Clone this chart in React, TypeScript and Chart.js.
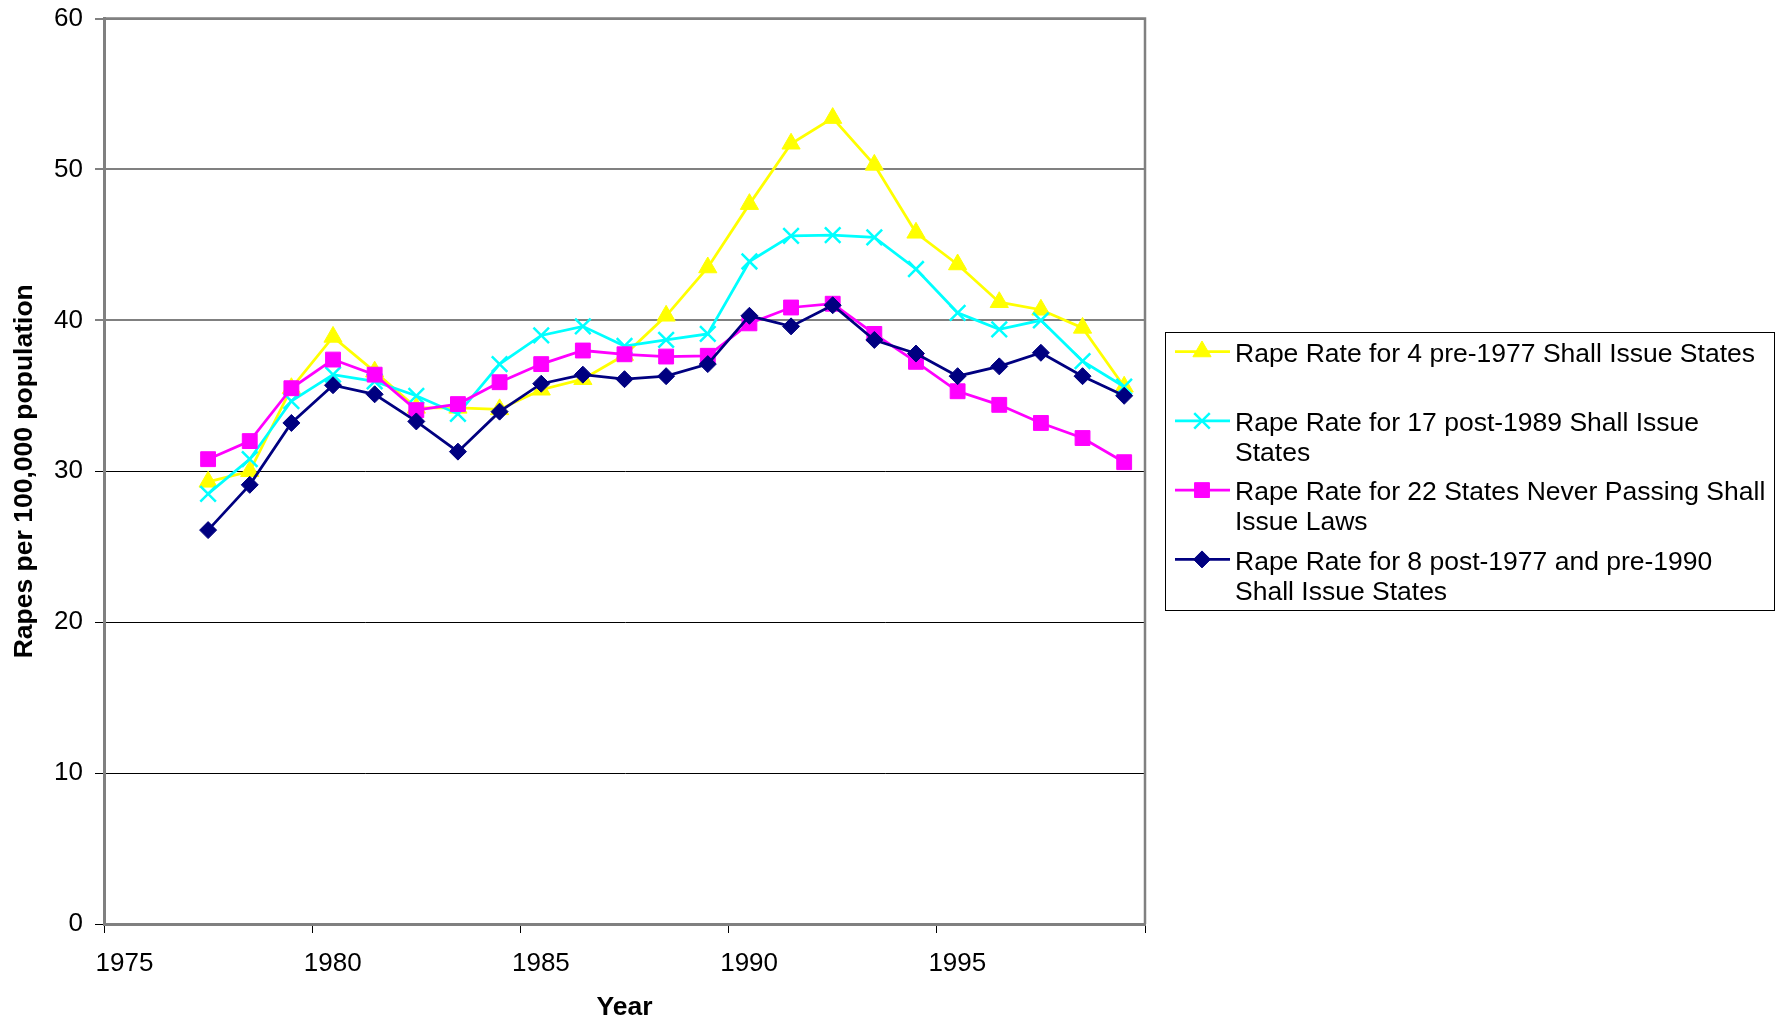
import React, { useEffect, useRef } from 'react';
import { Chart, registerables } from 'chart.js';
import { drawPoint } from 'chart.js/helpers';

Chart.register(...registerables);

// Years covered by the series (plotted at mid-year)
const years = [
  1977, 1978, 1979, 1980, 1981, 1982, 1983, 1984, 1985, 1986, 1987, 1988,
  1989, 1990, 1991, 1992, 1993, 1994, 1995, 1996, 1997, 1998, 1999,
];

// Rapes per 100,000 population
const pre1977States = [
  29.3, 30.0, 35.5, 38.9, 36.6, 34.2, 34.2, 34.1, 35.4, 36.1, 37.7, 40.3,
  43.5, 47.7, 51.7, 53.4, 50.3, 45.8, 43.7, 41.2, 40.7, 39.5, 35.6,
];
const post1989States = [
  28.5, 30.8, 34.65, 36.4, 35.95, 35.0, 33.8, 37.1, 39.0, 39.6, 38.3, 38.7,
  39.1, 43.9, 45.6, 45.65, 45.5, 43.4, 40.5, 39.4, 40.0, 37.3, 35.6,
];
const neverPassingStates = [
  30.8, 32.0, 35.5, 37.4, 36.4, 34.05, 34.45, 35.9, 37.1, 38.0, 37.75, 37.6,
  37.65, 39.8, 40.85, 41.1, 39.1, 37.25, 35.3, 34.4, 33.2, 32.2, 30.6,
];
const post1977Pre1990States = [
  26.1, 29.1, 33.2, 35.7, 35.1, 33.3, 31.3, 33.95, 35.8, 36.4, 36.1, 36.3,
  37.1, 40.3, 39.6, 41.0, 38.7, 37.8, 36.3, 36.95, 37.85, 36.3, 35.0,
];

// Legend text, one entry per series, split into its display lines
const seriesLabels = [
  ['Rape Rate for 4 pre-1977 Shall Issue States'],
  ['Rape Rate for 17 post-1989 Shall Issue', 'States'],
  ['Rape Rate for 22 States Never Passing Shall', 'Issue Laws'],
  ['Rape Rate for 8 post-1977 and pre-1990', 'Shall Issue States'],
];

const xAxisTitle = 'Year';
const yAxisTitle = 'Rapes per 100,000 population';

const FONT = '"Liberation Sans", Arial, Helvetica, sans-serif';
const GRAY = '#808080';

const seriesStyles = [
  { color: '#FFFF00', pointStyle: 'triangle', radius: 10.5, pointBorder: 1 },
  { color: '#00FFFF', pointStyle: 'crossRot', radius: 11, pointBorder: 2.5 },
  { color: '#FF00FF', pointStyle: 'rect', radius: 10.5, pointBorder: 1 },
  { color: '#000080', pointStyle: 'rectRot', radius: 8.5, pointBorder: 1 },
];

const seriesValues = [pre1977States, post1989States, neverPassingStates, post1977Pre1990States];

// Top and right edges of the plot frame
const frameBorder = {
  id: 'frameBorder',
  beforeDatasetsDraw(chart: any) {
    const { ctx, chartArea } = chart;
    ctx.save();
    ctx.strokeStyle = GRAY;
    ctx.lineWidth = 2.5;
    ctx.beginPath();
    ctx.moveTo(chartArea.left, chartArea.top);
    ctx.lineTo(chartArea.right, chartArea.top);
    ctx.lineTo(chartArea.right, chartArea.bottom);
    ctx.stroke();
    ctx.restore();
  },
};

// Boxed legend to the right of the plot with wrapped labels
const boxedLegend = {
  id: 'boxedLegend',
  afterDraw(chart: any) {
    const { ctx } = chart;
    const box = { x: 1165.5, y: 332.5, w: 609, h: 278 };
    const textX = 1235;
    const lineX0 = 1175;
    const lineX1 = 1230;
    const markerX = 1202;
    const firstY = 354.5;
    const entryStep = 69.3;
    const lineStep = 30;

    ctx.save();
    ctx.strokeStyle = '#000';
    ctx.lineWidth = 1;
    ctx.strokeRect(box.x, box.y, box.w, box.h);

    ctx.font = `26.5px ${FONT}`;
    ctx.textBaseline = 'middle';
    ctx.textAlign = 'left';

    seriesLabels.forEach((lines, i) => {
      const st = seriesStyles[i];
      const y0 = firstY + i * entryStep;
      const symY = y0 - 3;
      ctx.strokeStyle = st.color;
      ctx.lineWidth = 2.75;
      ctx.beginPath();
      ctx.moveTo(lineX0, symY);
      ctx.lineTo(lineX1, symY);
      ctx.stroke();

      ctx.fillStyle = st.color;
      ctx.strokeStyle = st.color;
      ctx.lineWidth = st.pointBorder;
      drawPoint(ctx, { pointStyle: st.pointStyle, radius: st.radius, rotation: 0, borderWidth: st.pointBorder } as any, markerX, symY);

      ctx.fillStyle = '#000';
      lines.forEach((t, j) => {
        ctx.fillText(t, textX, y0 + j * lineStep);
      });
    });
    ctx.restore();
  },
};

export default function App() {
  const canvasRef = useRef<HTMLCanvasElement | null>(null);

  useEffect(() => {
    const canvas = canvasRef.current;
    if (!canvas) return;

    const datasets = seriesValues.map((vals, i) => {
      const st = seriesStyles[i];
      return {
        label: seriesLabels[i].join(' '),
        data: years.map((yr, k) => ({ x: yr + 0.5, y: vals[k] })),
        borderColor: st.color,
        backgroundColor: st.color,
        borderWidth: 2.75,
        pointStyle: st.pointStyle,
        pointRadius: st.radius,
        pointBackgroundColor: st.color,
        pointBorderColor: st.color,
        pointBorderWidth: st.pointBorder,
        tension: 0,
        order: seriesValues.length - i,
      };
    });

    const chart = new Chart(canvas, {
      type: 'line',
      data: { datasets },
      options: {
        animation: false,
        responsive: false,
        devicePixelRatio: 1,
        layout: { padding: { left: 0, top: 18.5, right: 637, bottom: 0 } },
        plugins: {
          legend: { display: false },
          tooltip: { enabled: false },
        },
        scales: {
          x: {
            type: 'linear',
            min: 1975,
            max: 2000,
            afterFit: (scale: any) => {
              scale.height = 100;
              scale.paddingLeft = 0;
              scale.paddingRight = 0;
            },
            ticks: {
              stepSize: 5,
              color: '#000',
              font: { family: FONT, size: 26 },
              padding: 15.5,
              labelOffset: 20.5,
              maxRotation: 0,
              callback: (v: any) => (Number(v) === 2000 ? '' : String(v)),
            },
            grid: {
              drawOnChartArea: false,
              drawTicks: true,
              tickLength: 9,
              tickColor: '#000',
              tickWidth: 1,
            },
            border: { display: true, color: GRAY, width: 3 },
            title: {
              display: true,
              text: xAxisTitle,
              color: '#000',
              font: { family: FONT, size: 26.5, weight: 'bold' },
              padding: { top: 0, bottom: 0 },
            },
          },
          y: {
            type: 'linear',
            min: 0,
            max: 60,
            afterFit: (scale: any) => {
              scale.width = 104;
              scale.paddingTop = 0;
              scale.paddingBottom = 0;
            },
            ticks: {
              stepSize: 10,
              color: '#000',
              font: { family: FONT, size: 26 },
              padding: 12,
            },
            grid: {
              drawTicks: true,
              tickLength: 9,
              color: (c: any) => (c.tick && c.tick.value >= 40 ? GRAY : '#000'),
              lineWidth: (c: any) => (c.tick && c.tick.value >= 40 ? 2 : 1),
              tickColor: (c: any) => (c.tick && c.tick.value >= 40 ? GRAY : '#000'),
              tickWidth: (c: any) => (c.tick && c.tick.value >= 40 ? 2 : 1),
            },
            border: { display: true, color: GRAY, width: 3 },
            title: {
              display: true,
              text: yAxisTitle,
              color: '#000',
              font: { family: FONT, size: 26.5, weight: 'bold' },
              padding: { top: 9, bottom: 0 },
            },
          },
        },
      } as any,
      plugins: [frameBorder, boxedLegend],
    });

    return () => chart.destroy();
  }, []);

  return (
    <div style={{ position: 'fixed', left: 0, top: 0, width: 1782, height: 1024, background: '#fff' }}>
      <canvas ref={canvasRef} width={1782} height={1024} />
    </div>
  );
}
